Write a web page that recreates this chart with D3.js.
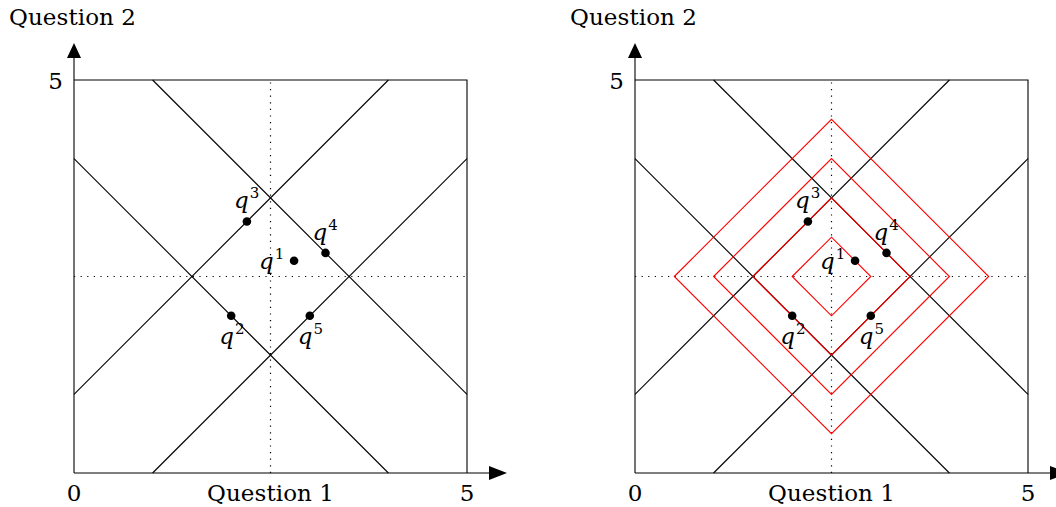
<html>
<head>
    <title>Question space</title>
    <script src="https://d3js.org/d3.v7.min.js"></script>
</head>
<style>
    body { margin: 0; background: #fff; }
    svg text { fill: #000; }
    .thin { fill: none; stroke: #000; stroke-width: 1.1px; }
    .dotted { fill: none; stroke: #000; stroke-width: 1.2px; stroke-dasharray: 1.2 5.4; }
    .ball { fill: none; stroke: #f00; stroke-width: 1.1px; }
</style>
<body>
<script>
    // data (in question units, 0..5)
    let axisMax = 5;
    let pointNames = ["1", "2", "3", "4", "5"];
    let pointQ1 = [2.8, 2.0, 2.2, 3.2, 3.0];
    let pointQ2 = [2.7, 2.0, 3.2, 2.8, 2.0];
    let labelPlace = ["left", "below left", "above left", "above left", "below left"];
    // boundary lines: [start, end]
    let boundaries = [
        [[1, 5], [5, 1]],
        [[0, 4], [4, 0]],
        [[0, 1], [4, 5]],
        [[1, 0], [5, 4]]
    ];
    let midValue = 2.5;
    let ballCenter = [2.5, 2.5];
    let ballRadii = [0.5, 1, 1.5, 2];
    let xTicks = [0, 5];
    let yTicks = [5];

    let fontName = "'DejaVu Serif', 'Liberation Serif', serif";
    let svgwidth = 1056, svgheight = 507;
    let size = 393;
    let panels = [{ left: 74, balls: false }, { left: 635, balls: true }];
    let topY = 80;

    let svg = d3.select("body").append("svg")
        .attr("width", svgwidth)
        .attr("height", svgheight)
        .attr("font-family", fontName);

    let x = d3.scaleLinear().domain([0, axisMax]).range([0, size]);
    let y = d3.scaleLinear().domain([0, axisMax]).range([size, 0]);

    let line = d3.line()
        .x(function (d) { return x(d[0]); })
        .y(function (d) { return y(d[1]); });

    let offsets = {
        "left": [-35, 8],
        "above left": [-13, -13],
        "below left": [-12, 28]
    };

    panels.forEach(function (p) {
        let g = svg.append("g")
            .attr("transform", "translate(" + p.left + "," + topY + ")");

        // dotted middle lines
        g.append("path").attr("class", "dotted")
            .attr("d", line([[midValue, 0], [midValue, axisMax]]));
        g.append("path").attr("class", "dotted")
            .attr("d", line([[0, midValue], [axisMax, midValue]]));

        // boundary lines
        g.selectAll(".bound")
            .data(boundaries)
            .enter()
            .append("path")
            .attr("class", "thin bound")
            .attr("d", function (d) { return line(d); });

        // L1 balls
        if (p.balls) {
            g.selectAll(".ball")
                .data(ballRadii)
                .enter()
                .append("path")
                .attr("class", "ball")
                .attr("d", function (r) {
                    let c = ballCenter;
                    return line([[c[0] - r, c[1]], [c[0], c[1] + r], [c[0] + r, c[1]], [c[0], c[1] - r]]) + "Z";
                });
        }

        // frame
        g.append("path").attr("class", "thin")
            .attr("d", line([[0, axisMax], [axisMax, axisMax], [axisMax, 0]]));

        // axes with arrows
        g.append("line").attr("class", "thin")
            .attr("x1", x(0)).attr("y1", y(0))
            .attr("x2", x(0)).attr("y2", y(axisMax) - 22);
        g.append("line").attr("class", "thin")
            .attr("x1", x(0)).attr("y1", y(0))
            .attr("x2", x(axisMax) + 23).attr("y2", y(0));
        g.append("path")
            .attr("d", "M" + x(0) + "," + (y(axisMax) - 37) + "L" + (x(0) - 7) + "," + (y(axisMax) - 22) +
                "L" + (x(0) + 7) + "," + (y(axisMax) - 22) + "Z")
            .attr("fill", "#000");
        g.append("path")
            .attr("d", "M" + (x(axisMax) + 40) + "," + y(0) + "L" + (x(axisMax) + 22) + "," + (y(0) - 7) +
                "L" + (x(axisMax) + 22) + "," + (y(0) + 7) + "Z")
            .attr("fill", "#000");

        // tick labels
        g.selectAll(".xt")
            .data(xTicks)
            .enter()
            .append("text")
            .attr("x", function (d) { return x(d); })
            .attr("y", y(0) + 28)
            .attr("text-anchor", "middle")
            .attr("font-size", 23)
            .text(function (d) { return d; });
        g.selectAll(".yt")
            .data(yTicks)
            .enter()
            .append("text")
            .attr("x", x(0) - 11)
            .attr("y", function (d) { return y(d) + 9; })
            .attr("text-anchor", "end")
            .attr("font-size", 23)
            .text(function (d) { return d; });

        // axis titles
        g.append("text")
            .attr("x", x(midValue))
            .attr("y", y(0) + 28)
            .attr("text-anchor", "middle")
            .attr("font-size", 23)
            .attr("textLength", 127)
            .text("Question 1");
        g.append("text")
            .attr("x", -65)
            .attr("y", -55)
            .attr("font-size", 23)
            .attr("textLength", 127)
            .text("Question 2");

        // points
        g.selectAll(".pt")
            .data(pointNames)
            .enter()
            .append("circle")
            .attr("cx", function (d, i) { return x(pointQ1[i]); })
            .attr("cy", function (d, i) { return y(pointQ2[i]); })
            .attr("r", 4.3)
            .attr("fill", "#000");

        let labels = g.selectAll(".lab")
            .data(pointNames)
            .enter()
            .append("text")
            .attr("x", function (d, i) { return x(pointQ1[i]) + offsets[labelPlace[i]][0]; })
            .attr("y", function (d, i) { return y(pointQ2[i]) + offsets[labelPlace[i]][1]; });
        labels.append("tspan")
            .attr("font-style", "italic")
            .attr("font-size", 23)
            .text("q");
        labels.append("tspan")
            .attr("dx", 1)
            .attr("dy", -10)
            .attr("font-size", 15)
            .text(function (d) { return d; });
    });
</script>
</body>
</html>
